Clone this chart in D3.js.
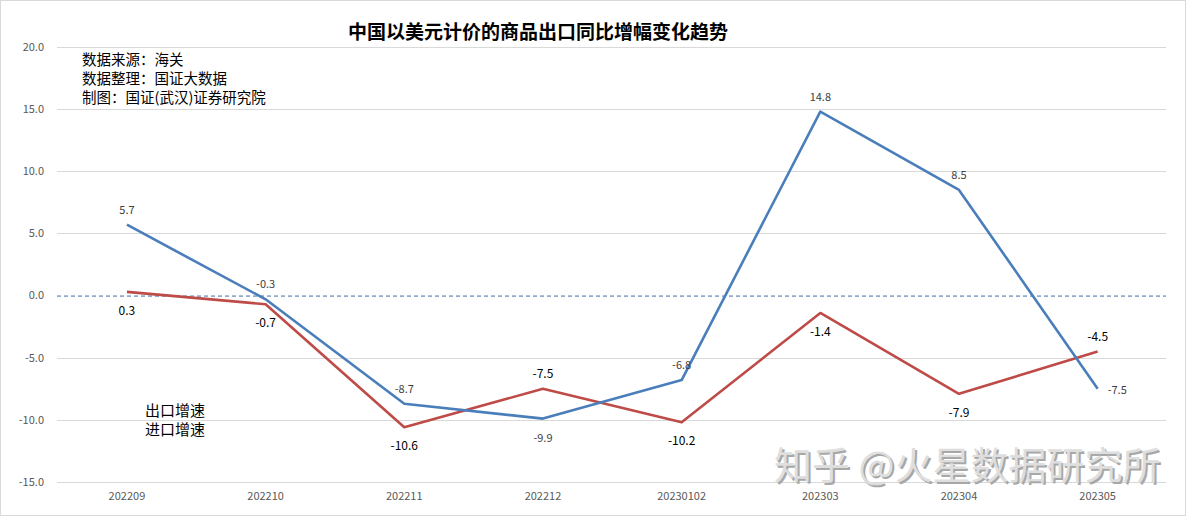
<!DOCTYPE html>
<html>
<head>
<meta charset="utf-8">
<script src="https://cdn.jsdelivr.net/npm/d3@7"></script>
<style>
  html, body { margin: 0; padding: 0; background: #fff; }
  svg { display: block; font-family: "Microsoft YaHei", "Noto Sans CJK SC", sans-serif; }
</style>
</head>
<body>
<div id="chart"></div>
<script>
// 出口 / 进口 同比增速, line chart in Excel style

const months = ['202209', '202210', '202211', '202212', '20230102', '202303', '202304', '202305'];
const exportGrowth = [5.7, -0.3, -8.7, -9.9, -6.8, 14.8, 8.5, -7.5];
const importGrowth = [0.3, -0.7, -10.6, -7.5, -10.2, -1.4, -7.9, -4.5];
const yTicks = [20, 15, 10, 5, 0, -5, -10, -15];
const notes = ['数据来源：海关', '数据整理：国证大数据', '制图：国证(武汉)证券研究院'];
const seriesNames = ['出口增速', '进口增速'];

// label placement per point: 'a' above, 'b' below, 'r' right
const exportPos = ['a', 'a', 'a', 'b', 'a', 'a', 'a', 'r'];
const importPos = ['b', 'b', 'b', 'a', 'b', 'b', 'b', 'a'];

const W = 1186, H = 517;
const svg = d3.select('#chart').append('svg').attr('width', W).attr('height', H);

svg.append('rect').attr('x', 0.5).attr('y', 0.5).attr('width', W - 1).attr('height', H - 2)
  .attr('fill', '#fff').attr('stroke', '#d9d9d9');

const x = d3.scaleBand().domain(months).range([57.6, 1167]);
const y = d3.scaleLinear().domain([-15, 20]).range([482, 47]);
const cx = (d) => x(d) + x.bandwidth() / 2;

// gridlines + y labels
svg.append('g').selectAll('line').data(yTicks).enter().append('line')
  .attr('x1', 57).attr('x2', 1166)
  .attr('y1', (d) => Math.round(y(d)) + 0.5).attr('y2', (d) => Math.round(y(d)) + 0.5)
  .attr('stroke', (d) => d === 0 ? 'none' : '#d9d9d9');

svg.append('g').selectAll('text').data(yTicks).enter().append('text')
  .attr('x', 44).attr('y', (d) => y(d)).attr('dy', '0.35em').attr('text-anchor', 'end')
  .style('font-size', '11px').style('fill', '#595959')
  .text((d) => d.toFixed(1));

// zero reference (dashed)
svg.append('line')
  .attr('x1', 57).attr('x2', 1166).attr('y1', y(0) + 0.5).attr('y2', y(0) + 0.5)
  .attr('stroke', '#3d6ea8').attr('stroke-width', 1).attr('stroke-dasharray', '4,3');

// x labels
svg.append('g').selectAll('text').data(months).enter().append('text')
  .attr('x', cx).attr('y', 500).attr('text-anchor', 'middle')
  .style('font-size', '11px').style('fill', '#595959')
  .text((d) => d);

// title
svg.append('text').attr('x', 538).attr('y', 39).attr('text-anchor', 'middle')
  .style('font-size', '19px').style('font-weight', 'bold').style('fill', '#000')
  .text('中国以美元计价的商品出口同比增幅变化趋势');

// notes
svg.append('g').selectAll('text').data(notes).enter().append('text')
  .attr('x', 82).attr('y', (d, i) => 65 + i * 19)
  .style('font-size', '14.5px').style('fill', '#000')
  .text((d) => d);

// legend (text only)
svg.append('g').selectAll('text').data(seriesNames).enter().append('text')
  .attr('x', 145).attr('y', (d, i) => 416 + i * 19)
  .style('font-size', '15px').style('fill', '#000')
  .text((d) => d);

// watermark
const wm = svg.append('g').style('font-size', '38px');
wm.append('text').attr('x', 776).attr('y', 481).style('fill', '#a8a8a8')
  .text('知乎 @火星数据研究所');
wm.append('text').attr('x', 774).attr('y', 479).style('fill', '#dedede')
  .text('知乎 @火星数据研究所');

// lines
const line = d3.line().x((d, i) => cx(months[i])).y((d) => y(d));

const series = [
  { values: importGrowth, color: '#be4b48', pos: importPos, size: '12px', fill: '#000' },
  { values: exportGrowth, color: '#4a7ebb', pos: exportPos, size: '11px', fill: '#404040' }
];

series.forEach((s) => {
  svg.append('path').datum(s.values)
    .attr('d', line).attr('fill', 'none')
    .attr('stroke', s.color).attr('stroke-width', 2.6).attr('stroke-linejoin', 'round');
});

series.forEach((s) => {
  svg.append('g').selectAll('text').data(s.values).enter().append('text')
    .attr('x', (d, i) => s.pos[i] === 'r' ? cx(months[i]) + 10 : cx(months[i]))
    .attr('y', (d, i) => s.pos[i] === 'a' ? y(d) - 11 : s.pos[i] === 'b' ? y(d) + 23 : y(d) + 5)
    .attr('text-anchor', (d, i) => s.pos[i] === 'r' ? 'start' : 'middle')
    .style('font-size', s.size).style('fill', s.fill)
    .text((d) => d.toFixed(1));
});
</script>
</body>
</html>
